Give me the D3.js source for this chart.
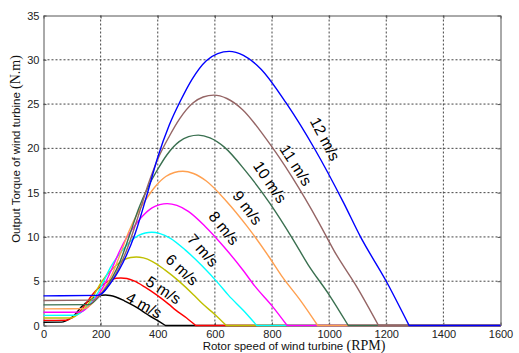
<!DOCTYPE html>
<html>
<head>
<meta charset="utf-8">
<script src="https://cdn.jsdelivr.net/npm/d3@7"></script>
<style>
  body { margin: 0; background: #fff; }
  svg { display: block; }
</style>
</head>
<body>
<svg id="chart" width="519" height="353"></svg>
<script>
// wind speeds (m/s) and their line colours
const speeds = [4, 5, 6, 7, 8, 9, 10, 11, 12];
const colors = ["#000000", "#ff0000", "#bfbf00", "#00ffff", "#ff00ff", "#ffa050", "#3a7050", "#956565", "#0000ff"];

const xTicks = [0, 200, 400, 600, 800, 1000, 1200, 1400, 1600];
const yTicks = [0, 5, 10, 15, 20, 25, 30, 35];

// rotor speed (RPM) / torque (N.m)
const rpm4  = [0, 63, 80, 97, 107, 120, 133, 147, 160, 173, 190, 203, 217, 233, 253, 283, 317, 350, 370, 400, 427, 1600];
const tq4   = [0.37, 0.38, 0.56, 0.88, 1.14, 1.61, 2.11, 2.51, 2.82, 3.09, 3.32, 3.41, 3.44, 3.39, 3.22, 2.79, 2.21, 1.54, 1.11, 0.56, 0, 0];
const rpm5  = [0, 79, 100, 121, 133, 150, 167, 183, 200, 217, 238, 254, 271, 292, 317, 354, 396, 438, 463, 500, 533, 1600];
const tq5   = [0.58, 0.59, 0.87, 1.37, 1.79, 2.52, 3.30, 3.92, 4.41, 4.83, 5.19, 5.33, 5.37, 5.30, 5.03, 4.36, 3.45, 2.41, 1.74, 0.87, 0, 0];
const rpm6  = [0, 95, 120, 145, 160, 180, 200, 220, 240, 260, 285, 305, 325, 350, 380, 425, 475, 525, 555, 600, 640, 1600];
const tq6   = [0.84, 0.85, 1.25, 1.98, 2.58, 3.63, 4.75, 5.65, 6.35, 6.95, 7.48, 7.68, 7.74, 7.63, 7.25, 6.28, 4.98, 3.48, 2.50, 1.25, 0, 0];
const rpm7  = [0, 111, 140, 169, 187, 210, 233, 257, 280, 303, 333, 356, 379, 408, 443, 496, 554, 613, 648, 700, 747, 1600];
const tq7   = [1.14, 1.16, 1.70, 2.69, 3.51, 4.93, 6.47, 7.69, 8.64, 9.46, 10.17, 10.45, 10.53, 10.38, 9.87, 8.54, 6.77, 4.73, 3.40, 1.70, 0, 0];
const rpm8  = [0, 127, 160, 193, 213, 240, 267, 293, 320, 347, 380, 407, 433, 467, 507, 567, 633, 700, 740, 800, 853, 1600];
const tq8   = [1.49, 1.51, 2.22, 3.51, 4.58, 6.44, 8.44, 10.04, 11.29, 12.36, 13.29, 13.64, 13.76, 13.56, 12.89, 11.16, 8.84, 6.18, 4.44, 2.22, 0, 0];
const rpm9  = [0, 143, 180, 218, 240, 270, 300, 330, 360, 390, 428, 458, 488, 525, 570, 638, 713, 788, 833, 900, 960, 1600];
const tq9   = [1.88, 1.91, 2.81, 4.44, 5.79, 8.16, 10.69, 12.71, 14.29, 15.64, 16.82, 17.27, 17.41, 17.16, 16.31, 14.12, 11.19, 7.82, 5.63, 2.81, 0, 0];
const rpm10 = [0, 158, 200, 242, 267, 300, 333, 367, 400, 433, 475, 508, 542, 583, 633, 708, 792, 875, 925, 1000, 1067, 1600];
const tq10  = [2.33, 2.36, 3.47, 5.49, 7.15, 10.07, 13.19, 15.69, 17.64, 19.31, 20.76, 21.32, 21.49, 21.18, 20.14, 17.43, 13.82, 9.65, 6.94, 3.47, 0, 0];
const rpm11 = [0, 174, 220, 266, 293, 330, 367, 403, 440, 477, 523, 559, 596, 642, 697, 779, 871, 963, 1018, 1100, 1173, 1600];
const tq11  = [2.82, 2.86, 4.20, 6.64, 8.66, 12.18, 15.97, 18.99, 21.34, 23.36, 25.12, 25.80, 26.01, 25.63, 24.37, 21.09, 16.72, 11.68, 8.40, 4.20, 0, 0];
const rpm12 = [0, 190, 240, 290, 320, 360, 400, 440, 480, 520, 570, 610, 650, 700, 760, 850, 950, 1050, 1110, 1200, 1280, 1600];
const tq12  = [3.35, 3.40, 5.00, 7.90, 10.30, 14.50, 19.00, 22.60, 25.40, 27.80, 29.90, 30.70, 30.95, 30.50, 29.00, 25.10, 19.90, 13.90, 10.00, 5.00, 0, 0];

// label centres beside the falling side: [rpm, torque, angle]
const labelPos = [[352, 2.3, 29], [420, 4.0, 33], [485, 6.3, 43], [558, 8.5, 48], [632, 11.0, 51], [714, 13.3, 53], [793, 16.2, 56], [884, 18.1, 57], [986, 21.05, 62]];

const rpms = [rpm4, rpm5, rpm6, rpm7, rpm8, rpm9, rpm10, rpm11, rpm12];
const tqs = [tq4, tq5, tq6, tq7, tq8, tq9, tq10, tq11, tq12];
const series = speeds.map((s, i) => ({
    speed: s,
    color: colors[i],
    points: rpms[i].map((r, j) => [r, tqs[i][j]])
}));

const svg = d3.select("#chart");
const x = d3.scaleLinear().domain([0, 1600]).range([43.5, 500.5]);
const y = d3.scaleLinear().domain([0, 35]).range([325.5, 15.5]);

// grid
const grid = svg.append("g")
    .attr("stroke", "#444")
    .attr("stroke-width", 1)
    .attr("stroke-dasharray", "2,2");
grid.selectAll("line.v").data(xTicks.slice(1, -1)).join("line")
    .attr("x1", d => x(d)).attr("x2", d => x(d))
    .attr("y1", y(0)).attr("y2", y(35));
grid.selectAll("line.h").data(yTicks.slice(1, -1)).join("line")
    .attr("x1", x(0)).attr("x2", x(1600))
    .attr("y1", d => y(d)).attr("y2", d => y(d));

// axes
const fmt = d3.format("d");
const xAxis = d3.axisBottom(x).tickValues(xTicks).tickFormat(fmt).tickSize(-3).tickPadding(5).tickSizeOuter(0);
const yAxis = d3.axisLeft(y).tickValues(yTicks).tickFormat(fmt).tickSize(-3).tickPadding(4).tickSizeOuter(0);

svg.append("g").attr("transform", "translate(0," + y(0) + ")").call(xAxis);
svg.append("g").attr("transform", "translate(" + x(0) + ",0)").call(yAxis);
svg.append("g").attr("transform", "translate(0," + y(35) + ")")
    .call(d3.axisTop(x).tickValues(xTicks).tickSize(-3).tickFormat("").tickSizeOuter(0));
svg.append("g").attr("transform", "translate(" + x(1600) + ",0)")
    .call(d3.axisRight(y).tickValues(yTicks).tickSize(-3).tickFormat("").tickSizeOuter(0));

svg.selectAll(".domain").attr("stroke", "#555");
svg.selectAll(".tick line").attr("stroke", "#555");
svg.selectAll(".tick text")
    .attr("font-family", "Liberation Sans, Arial, sans-serif")
    .attr("font-size", 11)
    .attr("fill", "#222");

// curves: smooth up to where torque hits zero, then straight along the axis
const line = d3.line()
    .x(d => x(d[0]))
    .y(d => y(d[1]))
    .curve(d3.curveMonotoneX);

svg.append("g").selectAll("path").data(series).join("path")
    .attr("d", d => {
        const pts = d.points;
        const last = pts[pts.length - 1];
        return line(pts.slice(0, -1)) + "L" + x(last[0]) + "," + y(last[1]);
    })
    .attr("fill", "none")
    .attr("stroke", d => d.color)
    .attr("stroke-width", 1.4);

// curve labels
svg.append("g").selectAll("text").data(series).join("text")
    .attr("transform", (d, i) => "translate(" + x(labelPos[i][0]) + "," + y(labelPos[i][1]) + ") rotate(" + labelPos[i][2] + ")")
    .attr("text-anchor", "middle")
    .attr("dy", "0.35em")
    .attr("font-family", "Liberation Sans, Arial, sans-serif")
    .attr("font-size", 15.5)
    .attr("fill", "#000")
    .text(d => d.speed + " m/s");

// axis titles
const xt = svg.append("text")
    .attr("x", 294).attr("y", 350)
    .attr("text-anchor", "middle")
    .attr("fill", "#111");
xt.append("tspan")
    .attr("font-family", "Liberation Sans, Arial, sans-serif")
    .attr("font-size", 11.5)
    .text("Rotor speed of wind turbine ");
xt.append("tspan")
    .attr("font-family", "Liberation Serif, Times New Roman, serif")
    .attr("font-size", 14)
    .text("(RPM)");

const yt = svg.append("text")
    .attr("transform", "translate(20,149) rotate(-90)")
    .attr("text-anchor", "middle")
    .attr("fill", "#111");
yt.append("tspan")
    .attr("font-family", "Liberation Sans, Arial, sans-serif")
    .attr("font-size", 11.5)
    .text("Output Torque of wind turbine ");
yt.append("tspan")
    .attr("font-family", "Liberation Serif, Times New Roman, serif")
    .attr("font-size", 14)
    .text("(N.m)");
</script>
</body>
</html>
